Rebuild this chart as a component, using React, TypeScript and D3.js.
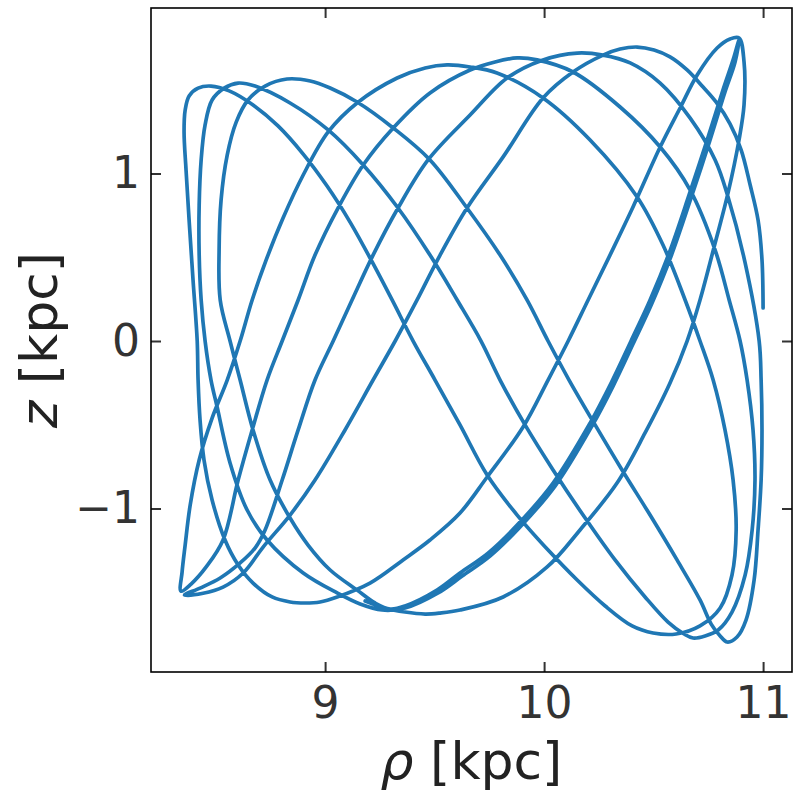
import * as d3 from 'd3';
import React, { useEffect, useRef } from 'react';

// meridional-plane orbit, points, [rho kpc, z kpc]
// each leg runs from one turning point of z to the next, in time order

const rhoTicks = [9, 10, 11];
const zTicks = [-1, 0, 1];
const rhoDomain = [8.205, 11.132];
const zDomain = [-1.976, 1.988];

const legStart = [
    [11.0, 0.197], [10.995, 0.484], [10.977, 0.722], [10.941, 0.931], [10.9, 1.14], [10.849, 1.296],
    [10.785, 1.427], [10.726, 1.516], [10.653, 1.618], [10.575, 1.696], [10.502, 1.737], [10.425, 1.755],
];
const leg1 = [
    [10.347, 1.743], [10.269, 1.707], [10.132, 1.606], [9.995, 1.451], [9.813, 1.099], [9.648, 0.794],
    [9.525, 0.513], [9.42, 0.245], [9.32, 0], [9.219, -0.233], [9.091, -0.531], [8.954, -0.83],
    [8.84, -1.039], [8.717, -1.23], [8.626, -1.385], [8.534, -1.469], [8.443, -1.506], [8.358, -1.516],
];
const leg2 = [
    [8.429, -1.475], [8.521, -1.415], [8.612, -1.325], [8.68, -1.236], [8.726, -1.128], [8.804, -0.83],
    [8.877, -0.531], [8.954, -0.233], [9.037, 0], [9.123, 0.245], [9.219, 0.513], [9.333, 0.794],
    [9.47, 1.081], [9.662, 1.349], [9.831, 1.57], [9.995, 1.678], [10.151, 1.719],
];
const leg3 = [
    [10.269, 1.707], [10.393, 1.66], [10.53, 1.54], [10.667, 1.331], [10.781, 1.081], [10.84, 0.86],
    [10.918, 0.466], [10.982, 0], [10.991, -0.233], [10.995, -0.531], [10.991, -0.83], [10.977, -1.128],
    [10.959, -1.427], [10.922, -1.666], [10.881, -1.767], [10.836, -1.797],
];
const leg4 = [
    [10.804, -1.761], [10.763, -1.69], [10.712, -1.546], [10.607, -1.307], [10.484, -1.039], [10.356, -0.77],
    [10.233, -0.501], [10.114, -0.233], [10.018, 0], [9.922, 0.245], [9.799, 0.513], [9.648, 0.794],
    [9.479, 1.081], [9.311, 1.272], [9.146, 1.427], [9.023, 1.51], [8.932, 1.552], [8.826, 1.564],
];
const leg5 = [
    [8.726, 1.522], [8.648, 1.439], [8.594, 1.307], [8.553, 1.11], [8.525, 0.842], [8.516, 0.543],
    [8.521, 0.245], [8.566, 0], [8.612, -0.233], [8.671, -0.531], [8.749, -0.83], [8.84, -1.057],
    [8.922, -1.218], [9.023, -1.367], [9.146, -1.487], [9.228, -1.564], [9.297, -1.6],
];
const leg6 = [
    [9.365, -1.582], [9.511, -1.487], [9.616, -1.385], [9.744, -1.266], [9.877, -1.099], [10.041, -0.848],
    [10.21, -0.49], [10.306, -0.251], [10.397, 0], [10.484, 0.245], [10.571, 0.525], [10.662, 0.872],
    [10.74, 1.182], [10.817, 1.499], [10.863, 1.678], [10.89, 1.797],
];
const leg7 = [
    [10.872, 1.666], [10.826, 1.487], [10.749, 1.164], [10.671, 0.854], [10.58, 0.507], [10.493, 0.227],
    [10.406, -0.018], [10.315, -0.269], [10.219, -0.507], [10.05, -0.866], [9.886, -1.116], [9.753, -1.284],
    [9.626, -1.403], [9.516, -1.504], [9.365, -1.594], [9.26, -1.606],
];
const leg8 = [
    [9.16, -1.57], [9.055, -1.504], [8.9, -1.385], [8.735, -1.188], [8.644, -1.009], [8.566, -0.728],
    [8.507, -0.394], [8.479, -0.233], [8.452, 0], [8.434, 0.245], [8.425, 0.513], [8.425, 0.812],
    [8.434, 1.081], [8.452, 1.29], [8.484, 1.439], [8.539, 1.51], [8.603, 1.54],
];
const leg9 = [
    [8.68, 1.522], [8.84, 1.421], [9.014, 1.26], [9.174, 1.051], [9.333, 0.794], [9.479, 0.513],
    [9.603, 0.245], [9.712, 0], [9.799, -0.233], [9.913, -0.501], [10.041, -0.77], [10.178, -1.039],
    [10.324, -1.307], [10.461, -1.528], [10.566, -1.678], [10.639, -1.749], [10.68, -1.773],
];
const leg10 = [
    [10.735, -1.761], [10.795, -1.725], [10.858, -1.618], [10.918, -1.397], [10.95, -1.128], [10.963, -0.83],
    [10.954, -0.531], [10.927, -0.233], [10.895, 0], [10.845, 0.245], [10.781, 0.543], [10.667, 0.901],
    [10.53, 1.158], [10.347, 1.397], [10.132, 1.606], [9.968, 1.678], [9.877, 1.69],
];
const leg11 = [
    [9.776, 1.666], [9.662, 1.618], [9.479, 1.481], [9.311, 1.272], [9.174, 1.051], [9.059, 0.794],
    [8.954, 0.513], [8.877, 0.245], [8.804, 0], [8.735, -0.233], [8.667, -0.531], [8.603, -0.83],
    [8.534, -1.188], [8.457, -1.349], [8.388, -1.451], [8.342, -1.493],
];
const leg12 = [
    [8.347, -1.379], [8.361, -1.218], [8.384, -0.979], [8.425, -0.71], [8.484, -0.46], [8.553, -0.233],
    [8.612, 0], [8.667, 0.245], [8.731, 0.484], [8.808, 0.734], [8.9, 0.991], [9.014, 1.248],
    [9.146, 1.421], [9.329, 1.57], [9.457, 1.63], [9.557, 1.648],
];
const leg13 = [
    [9.662, 1.636], [9.785, 1.6], [9.995, 1.451], [10.21, 1.2], [10.425, 0.86], [10.543, 0.573],
    [10.644, 0.245], [10.712, 0], [10.772, -0.233], [10.826, -0.531], [10.863, -0.83], [10.877, -1.128],
    [10.858, -1.397], [10.804, -1.594], [10.712, -1.701], [10.603, -1.749], [10.498, -1.743],
];
const leg14 = [
    [10.402, -1.701], [10.279, -1.582], [10.151, -1.427], [10.027, -1.26], [9.877, -1.039], [9.74, -0.8],
    [9.616, -0.501], [9.502, -0.233], [9.402, 0], [9.306, 0.245], [9.215, 0.472], [9.114, 0.71],
    [9.009, 0.925], [8.9, 1.116], [8.785, 1.284], [8.671, 1.409], [8.562, 1.493], [8.479, 1.522],
    [8.42, 1.51], [8.379, 1.463], [8.361, 1.379],
];
const leg15 = [
    [8.356, 1.248], [8.365, 1.021], [8.379, 0.722], [8.397, 0.364], [8.416, 0], [8.42, -0.233],
    [8.429, -0.472], [8.447, -0.71], [8.484, -0.949], [8.543, -1.188], [8.603, -1.337], [8.671, -1.445],
    [8.758, -1.528], [8.84, -1.558], [8.909, -1.564],
];
const leg16 = [
    [8.977, -1.558], [9.055, -1.528], [9.205, -1.445], [9.356, -1.307], [9.479, -1.188], [9.616, -1.027],
    [9.74, -0.812], [9.904, -0.513], [10.018, -0.233], [10.11, 0], [10.201, 0.245], [10.301, 0.513],
    [10.406, 0.8], [10.53, 1.158], [10.621, 1.391], [10.699, 1.588], [10.79, 1.749], [10.849, 1.803],
    [10.89, 1.809],
];
const leg17 = [
    [10.913, 1.666], [10.913, 1.409], [10.89, 1.2], [10.84, 0.884], [10.781, 0.585], [10.712, 0.245],
    [10.653, 0], [10.575, -0.251], [10.461, -0.549], [10.333, -0.848], [10.164, -1.128], [10.014, -1.349],
    [9.813, -1.528], [9.616, -1.606], [9.525, -1.624], [9.457, -1.63],
];
const legEnd = [
    [9.365, -1.618], [9.274, -1.594], [9.183, -1.552],
];

const orbit: number[][] = [
    ...legStart, ...leg1, ...leg2, ...leg3, ...leg4, ...leg5, ...leg6, ...leg7, ...leg8, ...leg9,
    ...leg10, ...leg11, ...leg12, ...leg13, ...leg14, ...leg15, ...leg16, ...leg17, ...legEnd,
];

export default () => {
    const ref = useRef<any>();

    useEffect(() => {
        const dims = { width: 800, height: 800, left: 151, right: 792, top: 8, bottom: 672 };

        const svg = d3.select<any, any>(ref.current)
            .attr('width', dims.width)
            .attr('height', dims.height);
        svg.selectAll('*').remove();

        const xScale = d3.scaleLinear().domain(rhoDomain).range([dims.left, dims.right]);
        const yScale = d3.scaleLinear().domain(zDomain).range([dims.bottom, dims.top]);

        svg.append('clipPath').attr('id', 'plot-clip')
            .append('rect')
            .attr('x', dims.left).attr('y', dims.top)
            .attr('width', dims.right - dims.left).attr('height', dims.bottom - dims.top);

        const line = d3.line<any>()
            .x((d: any) => xScale(d[0]))
            .y((d: any) => yScale(d[1]))
            .curve(d3.curveCatmullRom.alpha(0.5));

        svg.append('path')
            .datum(orbit)
            .attr('clip-path', 'url(#plot-clip)')
            .attr('d', line)
            .attr('fill', 'none')
            .attr('stroke', '#1f77b4')
            .attr('stroke-width', 3.7)
            .attr('stroke-linejoin', 'round')
            .attr('stroke-linecap', 'round');

        const tickLen = 10;
        const xBottom = d3.axisBottom(xScale).tickValues(rhoTicks).tickSizeInner(-tickLen).tickSizeOuter(0).tickPadding(15)
            .tickFormat((d: any) => String(d));
        const xTop = d3.axisTop(xScale).tickValues(rhoTicks).tickSizeInner(-tickLen).tickSizeOuter(0).tickFormat(() => '');
        const yLeft = d3.axisLeft(yScale).tickValues(zTicks).tickSizeInner(-tickLen).tickSizeOuter(0).tickPadding(11)
            .tickFormat((d: any) => (d < 0 ? '\u2212' + Math.abs(d) : String(d)));
        const yRight = d3.axisRight(yScale).tickValues(zTicks).tickSizeInner(-tickLen).tickSizeOuter(0).tickFormat(() => '');

        const axes = [
            svg.append('g').attr('transform', `translate(0, ${dims.bottom})`).call(xBottom),
            svg.append('g').attr('transform', `translate(0, ${dims.top})`).call(xTop),
            svg.append('g').attr('transform', `translate(${dims.left}, 0)`).call(yLeft),
            svg.append('g').attr('transform', `translate(${dims.right}, 0)`).call(yRight),
        ];
        axes.forEach((g) => {
            g.select('.domain').remove();
            g.selectAll('.tick line').attr('stroke', '#333').attr('stroke-width', 2);
            g.selectAll('.tick text')
                .attr('fill', '#333')
                .style('font-family', '"DejaVu Sans", sans-serif')
                .style('font-size', '44px');
        });

        svg.append('rect')
            .attr('x', dims.left).attr('y', dims.top)
            .attr('width', dims.right - dims.left).attr('height', dims.bottom - dims.top)
            .attr('fill', 'none')
            .attr('stroke', '#000')
            .attr('stroke-width', 1.6);

        const xLabel = svg.append('text')
            .attr('x', (dims.left + dims.right) / 2)
            .attr('y', 779)
            .attr('text-anchor', 'middle')
            .attr('fill', '#222')
            .style('font-family', '"DejaVu Sans", sans-serif')
            .style('font-size', '52px');
        xLabel.append('tspan').style('font-style', 'italic').text('\u03c1');
        xLabel.append('tspan').text(' [kpc]');

        const yLabel = svg.append('text')
            .attr('transform', `translate(57, ${(dims.top + dims.bottom) / 2}) rotate(-90)`)
            .attr('text-anchor', 'middle')
            .attr('fill', '#222')
            .style('font-family', '"DejaVu Sans", sans-serif')
            .style('font-size', '52px');
        yLabel.append('tspan').style('font-style', 'italic').text('z');
        yLabel.append('tspan').text(' [kpc]');
    }, []);

    return (
        <svg ref={ref} style={{ position: 'absolute', left: 0, top: 0, background: '#fff' }}></svg>
    );
};
